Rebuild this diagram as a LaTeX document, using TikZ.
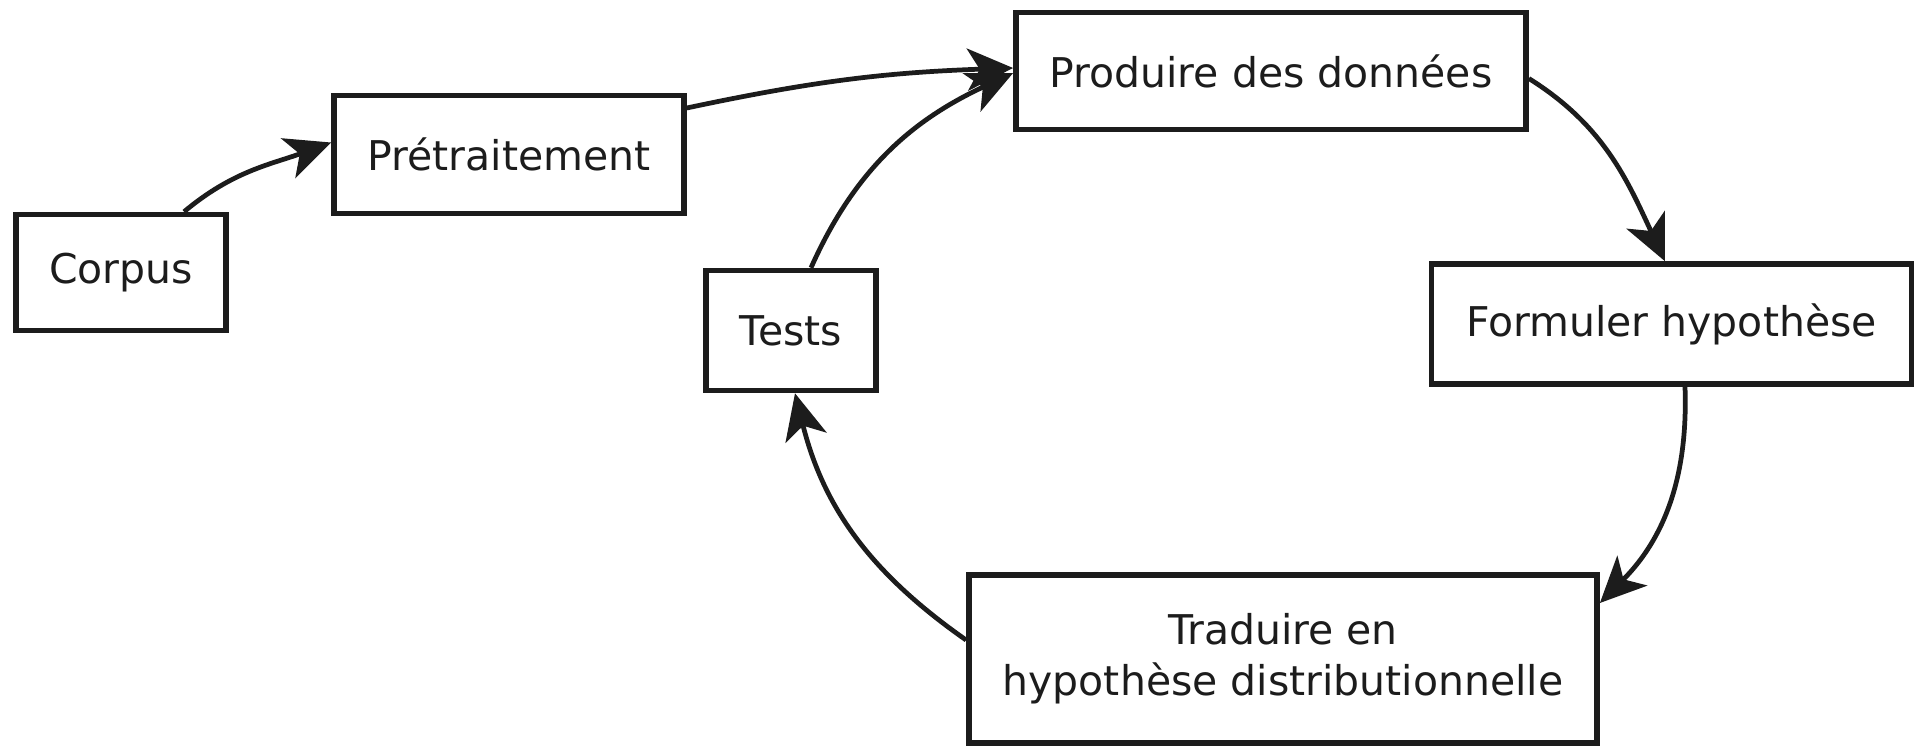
\documentclass[tikz,border=0pt]{standalone}
\usepackage{fontspec}
\setmainfont{DejaVu Sans}
\usetikzlibrary{arrows.meta}
\definecolor{ink}{HTML}{1C1C1C}
\begin{document}
\begin{tikzpicture}[x=0.01cm,y=0.01cm,
  box/.style={draw=ink,line width=1.55pt,text=ink,inner sep=0pt,align=center,
    font=\fontsize{11.65}{14.5}\selectfont},
  conn/.style={draw=ink,line width=1.35pt,-{Stealth[length=13pt,width=12pt,inset=3.5pt]}}]
\useasboundingbox (0,0) rectangle (1920,-747);
\node[box,minimum width=2.10cm,minimum height=1.16cm] (corpus) at (121,-272.5) {Corpus};
\node[box,minimum width=3.50cm,minimum height=1.18cm] (pre) at (509,-154.5) {Prétraitement};
\node[box,minimum width=5.10cm,minimum height=1.17cm] (prod) at (1271,-71) {Produire des données};
\node[box,minimum width=4.80cm,minimum height=1.20cm] (form) at (1671.5,-324) {Formuler hypothèse};
\node[box,minimum width=1.70cm,minimum height=1.20cm] (tests) at (791,-330.5) {Tests};
\node[box,minimum width=6.28cm,minimum height=1.68cm] (trad) at (1283,-659) {Traduire en\\hypothèse distributionnelle};
\draw[conn] ([xshift=0.63cm]corpus.north) to[out=40,in=200] ([yshift=0.12cm]pre.west);
\draw[conn] ([yshift=0.465cm]pre.east) to[out=12,in=182] ([yshift=0.03cm]prod.west);
\draw[conn] ([xshift=0.2cm]tests.north) to[out=66,in=205] ([yshift=-0.02cm]prod.west);
\draw[conn] ([yshift=-0.075cm]prod.east) to[out=-32,in=115] ([xshift=-0.065cm]form.north);
\draw[conn] ([xshift=0.135cm]form.south) to[out=-88,in=45] ([yshift=0.56cm]trad.east);
\draw[conn] ([yshift=0.19cm]trad.west) to[out=145,in=-76] ([xshift=0.04cm]tests.south);
\end{tikzpicture}
\end{document}
